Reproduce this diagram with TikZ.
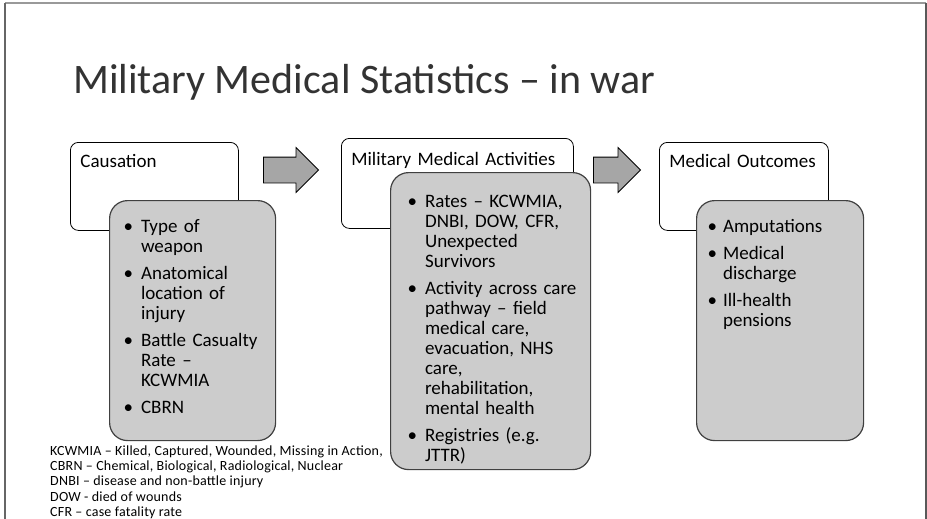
\documentclass[tikz,border=0pt]{standalone}
\usepackage{fontspec}
\setmainfont{Carlito}
\usepackage{xcolor}
\usetikzlibrary{shapes.arrows}

\definecolor{boxgray}{RGB}{204,204,204}
\definecolor{arrowgray}{RGB}{166,166,166}
\definecolor{edgegray}{RGB}{64,64,64}

\newcommand{\bl}{\textbullet}

\begin{document}
\begin{tikzpicture}[x=1pt, y=-1pt,
    headbox/.style={draw=black, line width=0.8pt, rounded corners=8pt, fill=white,
        anchor=north west, align=left, inner xsep=10pt, inner ysep=0pt,
        font=\fontsize{19}{20}\selectfont},
    listbox/.style={draw=edgegray, line width=1.2pt, rounded corners=18pt, fill=boxgray,
        anchor=north west, align=left, inner ysep=0pt,
        font=\fontsize{19}{20}\selectfont},
    bigarrow/.style={single arrow, draw=black, line width=0.8pt, fill=arrowgray,
        minimum width=44pt, single arrow head extend=9.5pt, inner xsep=0pt, inner ysep=12.5pt}]
    \useasboundingbox (0,0) rectangle (927,519);
    \draw[black!40, line width=1.5pt] (5,3) -- (926,3);
    \draw[black!60, line width=1.5pt] (5,3) -- (5,519);
    \draw[black!65, line width=2pt] (926,3) -- (926,519);

    \node[anchor=base west, inner sep=0pt, text=black!80, font=\fontsize{42}{50}\selectfont] (title) at (73,94)
        {Military Medical Statistics – in war};

    \node[headbox, text width=148pt, text height=25pt, text depth=63pt] (cause) at (70,142) {Causation};
    \node[headbox, text width=212pt, text height=27pt, text depth=63pt] (activ) at (341,138) {Military Medical Activities};
    \node[headbox, text width=149pt, text height=25pt, text depth=63pt] (outcome) at (659,142) {Medical Outcomes};

    \node[listbox, inner xsep=14pt, text width=138pt, text height=32pt, text depth=208pt] (causeList) at (109,200) {%
        \begin{tabular}[t]{@{}l@{\hspace{8pt}}l@{}}
        \bl & Type of\\
            & weapon\\[7pt]
        \bl & Anatomical\\
            & location of\\
            & injury\\[7pt]
        \bl & Battle Casualty\\
            & Rate –\\
            & KCWMIA\\[7pt]
        \bl & CBRN
        \end{tabular}};
    \node[listbox, inner xsep=17pt, text width=166pt, text height=35pt, text depth=262pt] (activList) at (390,172) {%
        \begin{tabular}[t]{@{}l@{\hspace{8pt}}l@{}}
        \bl & Rates – KCWMIA,\\
            & DNBI, DOW, CFR,\\
            & Unexpected\\
            & Survivors\\[7pt]
        \bl & Activity across care\\
            & pathway – field\\
            & medical care,\\
            & evacuation, NHS\\
            & care,\\
            & rehabilitation,\\
            & mental health\\[7pt]
        \bl & Registries (e.g.\\
            & JTTR)
        \end{tabular}};
    \node[listbox, inner xsep=11pt, text width=145pt, text height=32pt, text depth=208pt] (outcomeList) at (696,200) {%
        \begin{tabular}[t]{@{}l@{\hspace{6pt}}l@{}}
        \bl & Amputations\\[7pt]
        \bl & Medical\\
            & discharge\\[7pt]
        \bl & Ill-health\\
            & pensions
        \end{tabular}};

    \node[bigarrow, minimum height=55pt] (arrA) at (284.5,170) {};
    \node[bigarrow, minimum height=47pt] (arrB) at (610.5,170) {};

    \node[anchor=base west, inner sep=0pt, font=\fontsize{14}{15.4}\selectfont\addfontfeatures{LetterSpace=1.5}] (abbrev) at (50,455) {%
        \begin{tabular}[t]{@{}l@{}}
        KCWMIA – Killed, Captured, Wounded, Missing in Action,\\
        CBRN – Chemical, Biological, Radiological, Nuclear\\
        DNBI – disease and non-battle injury\\
        DOW - died of wounds\\
        CFR – case fatality rate
        \end{tabular}};
\end{tikzpicture}
\end{document}
